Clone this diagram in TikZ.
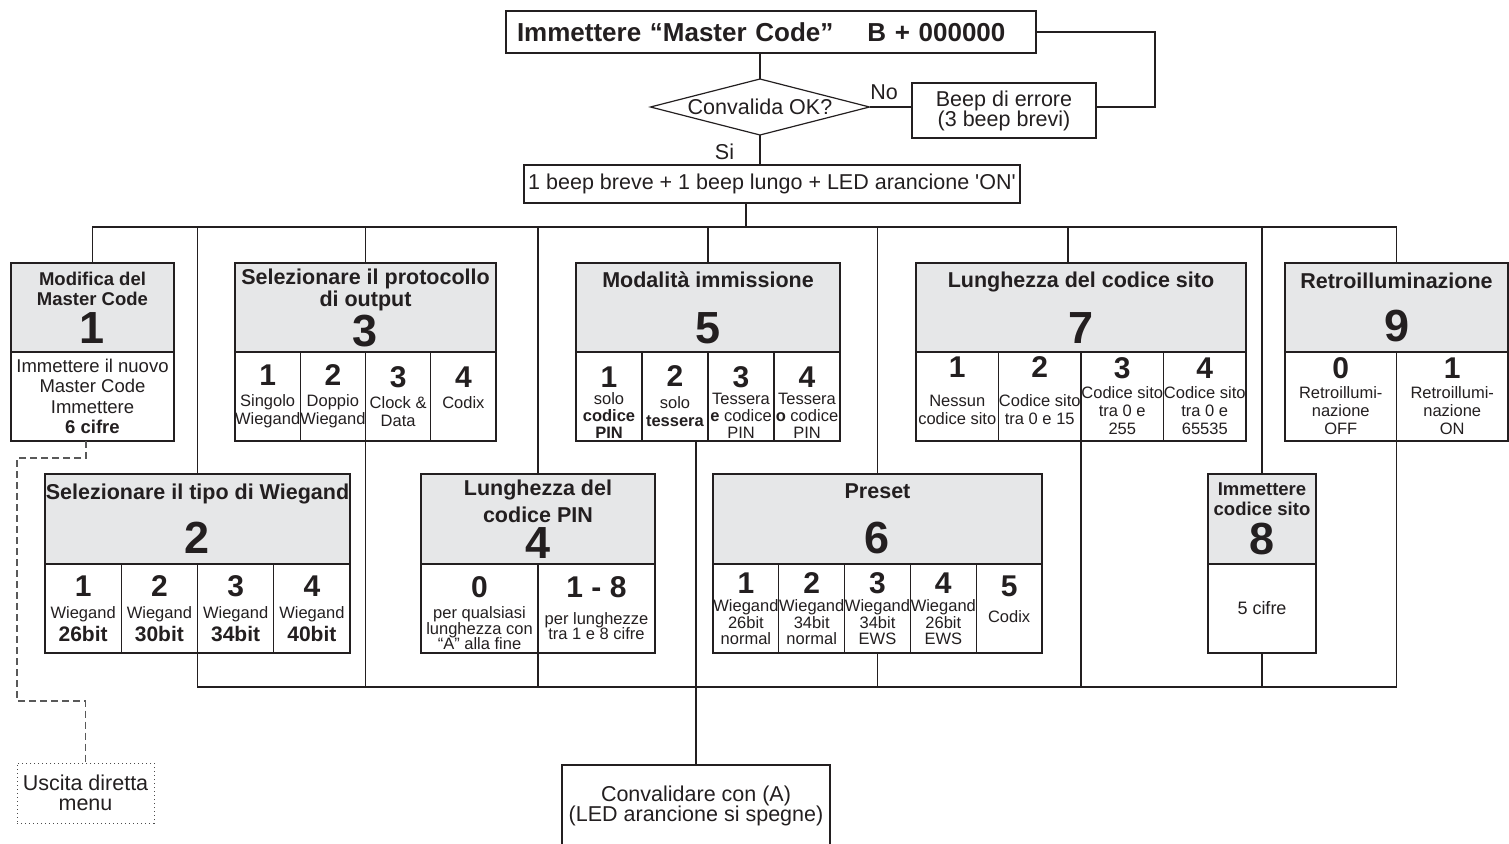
\documentclass[tikz,border=0pt]{standalone}
\usepackage{fontspec}
\setmainfont{Liberation Sans}
\usetikzlibrary{positioning,shapes.geometric}

\definecolor{ink}{RGB}{35,31,32}
\definecolor{hdrgrey}{RGB}{230,231,232}

\newcommand{\tightlines}{\lineskiplimit=-100pt\relax}
\newcommand{\bignum}[1]{{\fontsize{45}{45}\selectfont\bfseries #1}}
\newcommand{\cellnum}[1]{{\fontsize{30}{30}\selectfont\bfseries #1}}
\newcommand{\bitnum}[1]{{\fontsize{21}{21}\selectfont\bfseries #1}}

\begin{document}
\begin{tikzpicture}[
    x=1pt, y=-1pt,
    every node/.style={text=ink, inner sep=0pt, outer sep=0pt},
    plain/.style={rectangle, draw=ink, line width=1.2pt, align=center,
      font=\fontsize{21.5}{20}\selectfont\tightlines},
    hdr/.style={rectangle, draw=ink, line width=1.2pt, fill=hdrgrey, align=center, anchor=north west,
      font=\fontsize{21.5}{22}\selectfont\bfseries\tightlines},
    smallhdr/.style={hdr, font=\fontsize{18.5}{20}\selectfont\bfseries\tightlines},
    cell/.style={rectangle, draw=ink, line width=1.2pt, fill=white, align=center, anchor=north west,
      minimum height=89pt, font=\fontsize{16.5}{18}\selectfont\tightlines},
    frame/.style={draw=ink, line width=2pt},
    wire/.style={draw=ink, line width=1.1pt},
    dashline/.style={draw=black!65, line width=1.1pt, dash pattern=on 7pt off 4pt}
  ]
    \useasboundingbox (0,0) rectangle (1509,843);

    % start of the menu
    \node[plain, anchor=north west, minimum width=530pt, minimum height=42pt, text width=508pt,
      align=left, inner xsep=11pt, font=\fontsize{26}{30}\selectfont\bfseries] (master) at (506,11)
      {Immettere “Master Code”\hspace{34pt}B + 000000};
    \node[diamond, draw=ink, line width=1.2pt, aspect=3.9, minimum width=219pt, minimum height=56pt,
      font=\fontsize{21.5}{22}\selectfont] (check) at (760,107) {Convalida OK?};
    \node[plain, minimum width=184pt, minimum height=55pt] (err) at (1004,110.5)
      {Beep di errore\\(3 beep brevi)};
    \node[font=\fontsize{21.5}{22}\selectfont] (no) at (884,92) {No};
    \node[font=\fontsize{21.5}{22}\selectfont] (si) at (724.5,152) {Si};
    \node[plain, minimum width=496pt, minimum height=38pt] (beeps) at (772,184)
      {1 beep breve + 1 beep lungo + LED arancione \textquotesingle ON\textquotesingle};

    % first row
    \node[smallhdr, minimum width=163pt, minimum height=89pt] (h1) at (11,263)
      {Modifica del\\Master Code\\[18pt]\bignum{1}};
    \node[cell, minimum width=163pt, font=\fontsize{18.5}{20.5}\selectfont\tightlines] (b1) at (h1.south west)
      {Immettere il nuovo\\Master Code\\Immettere\\\textbf{6 cifre}};
    \draw[frame] (h1.north west) rectangle (b1.south east);

    \node[hdr, minimum width=261pt, minimum height=89pt] (h3) at (235,263)
      {Selezionare il protocollo\\di output\\[18pt]\bignum{3}};
    \node[cell, minimum width=65.25pt] (c3a) at (h3.south west) {\cellnum{1}\\[3pt]Singolo\\Wiegand};
    \node[cell, minimum width=65.25pt] (c3b) at (c3a.north east) {\cellnum{2}\\[3pt]Doppio\\Wiegand};
    \node[cell, minimum width=65.25pt] (c3c) at (c3b.north east) {\cellnum{3}\\[3pt]Clock \&\\Data};
    \node[cell, minimum width=65.25pt] (c3d) at (c3c.north east) {\cellnum{4}\\[3pt]Codix\\~};
    \draw[frame] (h3.north west) rectangle (c3d.south east);

    \node[hdr, minimum width=264pt, minimum height=89pt] (h5) at (576,263)
      {Modalità immissione\\[34pt]\bignum{5}};
    \node[cell, minimum width=66pt] (c5a) at (h5.south west)
      {\cellnum{1}\rule{0pt}{32.5pt}\\[-0.5pt]solo\\[-1pt]\textbf{codice}\\[-1pt]\textbf{PIN}};
    \node[cell, minimum width=66pt] (c5b) at (c5a.north east) {\cellnum{2}\\[4pt]solo\\\textbf{tessera}};
    \node[cell, minimum width=66pt] (c5c) at (c5b.north east)
      {\cellnum{3}\rule{0pt}{32.5pt}\\[-0.5pt]Tessera\\[-1pt]\textbf{e} codice\\[-1pt]PIN};
    \node[cell, minimum width=66pt] (c5d) at (c5c.north east)
      {\cellnum{4}\rule{0pt}{32.5pt}\\[-0.5pt]Tessera\\[-1pt]\textbf{o} codice\\[-1pt]PIN};
    \draw[frame] (h5.north west) rectangle (c5d.south east);

    \node[hdr, minimum width=330pt, minimum height=89pt] (h7) at (916,263)
      {Lunghezza del codice sito\\[34pt]\bignum{7}};
    \node[cell, minimum width=82.5pt] (c7a) at (h7.south west) {\cellnum{1}\\[11pt]Nessun\\codice sito\\[-6.5pt]~};
    \node[cell, minimum width=82.5pt] (c7b) at (c7a.north east) {\cellnum{2}\\[11pt]Codice sito\\tra 0 e 15\\[-6.5pt]~};
    \node[cell, minimum width=82.5pt] (c7c) at (c7b.north east) {\cellnum{3}\\[2pt]Codice sito\\tra 0 e\\255};
    \node[cell, minimum width=82.5pt] (c7d) at (c7c.north east) {\cellnum{4}\\[2pt]Codice sito\\tra 0 e\\65535};
    \draw[frame] (h7.north west) rectangle (c7d.south east);

    \node[hdr, minimum width=223pt, minimum height=89pt] (h9) at (1285,263)
      {Retroilluminazione\\[31pt]\bignum{9}};
    \node[cell, minimum width=111.5pt] (c9a) at (h9.south west) {\cellnum{0}\\[2pt]Retroillumi-\\nazione\\OFF};
    \node[cell, minimum width=111.5pt] (c9b) at (c9a.north east) {\cellnum{1}\\[2pt]Retroillumi-\\nazione\\ON};
    \draw[frame] (h9.north west) rectangle (c9b.south east);

    % second row
    \node[hdr, minimum width=305pt, minimum height=90pt] (h2) at (45,474)
      {Selezionare il tipo di Wiegand\\[32pt]\bignum{2}};
    \node[cell, minimum width=76.25pt] (c2a) at (h2.south west) {\cellnum{1}\\[4pt]Wiegand\\[5pt]\bitnum{26bit}};
    \node[cell, minimum width=76.25pt] (c2b) at (c2a.north east) {\cellnum{2}\\[4pt]Wiegand\\[5pt]\bitnum{30bit}};
    \node[cell, minimum width=76.25pt] (c2c) at (c2b.north east) {\cellnum{3}\\[4pt]Wiegand\\[5pt]\bitnum{34bit}};
    \node[cell, minimum width=76.25pt] (c2d) at (c2c.north east) {\cellnum{4}\\[4pt]Wiegand\\[5pt]\bitnum{40bit}};
    \draw[frame] (h2.north west) rectangle (c2d.south east);

    \node[hdr, minimum width=234pt, minimum height=90pt] (h4) at (421,474)
      {Lunghezza del\\[5pt]codice PIN\\[14pt]\bignum{4}};
    \node[cell, minimum width=117pt] (c4a) at (h4.south west)
      {\cellnum{0}\rule{0pt}{31pt}\\[3pt]per qualsiasi\\[-2pt]lunghezza con\\[-3pt]“A” alla fine};
    \node[cell, minimum width=117pt] (c4b) at (c4a.north east)
      {\cellnum{1 - 8}\\[9pt]per lunghezze\\[-3pt]tra 1 e 8 cifre};
    \draw[frame] (h4.north west) rectangle (c4b.south east);

    \node[hdr, minimum width=329pt, minimum height=90pt] (h6) at (713,474)
      {Preset\\[33pt]\bignum{6}};
    \node[cell, minimum width=65.8pt] (c6a) at (h6.south west) {\cellnum{1}\\Wiegand\\[-1pt]26bit\\[-2pt]normal};
    \node[cell, minimum width=65.8pt] (c6b) at (c6a.north east) {\cellnum{2}\\Wiegand\\[-1pt]34bit\\[-2pt]normal};
    \node[cell, minimum width=65.8pt] (c6c) at (c6b.north east) {\cellnum{3}\\Wiegand\\[-1pt]34bit\\[-2pt]EWS};
    \node[cell, minimum width=65.8pt] (c6d) at (c6c.north east) {\cellnum{4}\\Wiegand\\[-1pt]26bit\\[-2pt]EWS};
    \node[cell, minimum width=65.8pt] (c6e) at (c6d.north east) {\cellnum{5}\\[8pt]Codix\\~};
    \draw[frame] (h6.north west) rectangle (c6e.south east);

    \node[smallhdr, minimum width=108pt, minimum height=90pt] (h8) at (1208,474)
      {Immettere\\codice sito\\[19pt]\bignum{8}};
    \node[cell, minimum width=108pt, font=\fontsize{18}{20}\selectfont] (b8) at (h8.south west) {5 cifre};
    \draw[frame] (h8.north west) rectangle (b8.south east);

    % bottom
    \node[plain, anchor=north, minimum width=268pt, minimum height=82pt] (valid) at (696,765)
      {Convalidare con (A)\\(LED arancione si spegne)};
    \node[plain, draw=black!70, line width=1pt, dash pattern=on 1.2pt off 2.8pt,
      minimum width=137pt, minimum height=60pt] (exit) at (85.5,793) {Uscita diretta\\menu};

    % connectors
    \coordinate (topbus) at (746,227);
    \coordinate (botbus) at (696,687);
    \coordinate (t7) at (1068,227);
    \coordinate (loop) at (1155,107);
    \coordinate (dtop) at (86,458);
    \coordinate (dbot) at (17,701);

    \draw[wire] (check |- master.south) -- (check.north);
    \draw[wire] (check.east) -- (check.east -| err.west);
    \draw[wire] (err.east |- loop) -- (loop) |- (master.east);
    \draw[wire] (check.south) -- (check.south |- beeps.north);
    \draw[wire] (topbus |- beeps.south) -- (topbus);
    \draw[wire] (h1.north) |- (topbus) -| (h9.north);
    \draw[wire] (h2.north) -- (h2.north |- topbus);
    \draw[wire] (h3.north) -- (h3.north |- topbus);
    \draw[wire] (h4.north) -- (h4.north |- topbus);
    \draw[wire] (h5.north) -- (h5.north |- topbus);
    \draw[wire] (h6.north) -- (h6.north |- topbus);
    \draw[wire] (t7) -- (t7 |- h7.north);
    \draw[wire] (h8.north) -- (h8.north |- topbus);
    \draw[wire] (c2b.south east) |- (botbus) -| (c9a.south east);
    \draw[wire] (c3b.south east) -- (c3b.south east |- botbus);
    \draw[wire] (c4a.south east) -- (c4a.south east |- botbus);
    \draw[wire] (c6c.south) -- (c6c.south |- botbus);
    \draw[wire] (c7b.south east) -- (c7b.south east |- botbus);
    \draw[wire] (b8.south) -- (b8.south |- botbus);
    \draw[wire] (botbus |- c5b.south) -- (valid.north);
    \draw[dashline] (dtop |- b1.south) -- (dtop) -| (dbot) -| (exit.north);
\end{tikzpicture}
\end{document}
